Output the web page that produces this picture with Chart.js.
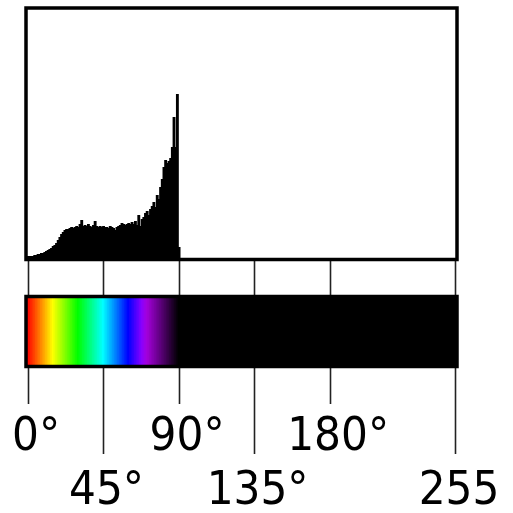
<!DOCTYPE html>
<html>
<head>
<meta charset="utf-8">
<script src="https://cdn.jsdelivr.net/npm/chart.js@4/dist/chart.umd.min.js"></script>
<style>
  html, body { margin: 0; padding: 0; background: #fff; }
  canvas { display: block; }
</style>
</head>
<body>
<canvas id="hueChart" width="513" height="513"></canvas>
<script>
// histogram counts for hue bins 0..90 (everything above is empty)
const histCounts = [
  1, 1, 1, 1, 2, 2, 3, 3, 4, 4,
  5, 6, 7, 8, 9, 11, 12, 14, 17, 20,
  23, 25, 27, 28, 28, 29, 30, 29, 30, 31,
  30, 33, 37, 31, 32, 31, 33, 31, 30, 32,
  36, 31, 30, 31, 30, 31, 30, 30, 29, 31,
  30, 29, 27, 30, 31, 32, 34, 33, 32, 33,
  34, 33, 35, 33, 36, 32, 42, 31, 38, 40,
  44, 46, 42, 48, 51, 55, 50, 62, 58, 70,
  78, 90, 97, 94, 96, 99, 110, 140, 110, 163,
  10
];

// axis ticks, split in the two label rows
const upperTicks = [0, 90, 180];
const upperLabels = ['0°', '90°', '180°'];
const lowerTicks = [45, 135, 255];
const lowerLabels = ['45°', '135°', '255'];
const allTicks = [0, 45, 90, 135, 180, 255];

const binCount = 256;

// colour of the hue strip for one bin
function bandColour(v) {
  if (v > 90) return '#000';
  var hue = Math.min(v * 4, 285);
  var light = v < 68 ? 50 : 50 * (90 - v) / 22;
  return 'hsl(' + hue + ', 100%, ' + light + '%)';
}

var histData = histCounts.map(function (c, i) { return { x: i, y: c }; });
var bandData = [];
for (var i = 0; i < binCount; i++) bandData.push({ x: i, y: 1 });

// draws the boxes round the histogram and the colour strip
const frames = {
  id: 'frames',
  afterDatasetsDraw(chart) {
    var ctx = chart.ctx, area = chart.chartArea;
    ctx.save();
    ctx.lineWidth = 3.5;
    ctx.strokeStyle = '#000';
    ['yHist', 'yColor'].forEach(function (id) {
      var s = chart.scales[id];
      ctx.strokeRect(area.left, s.top, area.right - area.left, s.bottom - s.top);
    });
    ctx.restore();
  }
};

function fixedTicks(values) {
  return function (scale) {
    scale.ticks = values.map(function (v) { return { value: v }; });
  };
}

// label row height is used to push each row down below its tick lines
function labelFont(lineHeight) {
  return { family: "'Liberation Sans Narrow', 'DejaVu Sans Condensed', sans-serif", size: 47, lineHeight: lineHeight };
}

function xAxis(pos, values, labels, tickLen, lineHeight, offset) {
  return {
    type: 'linear',
    min: -1.2,
    max: 255.6,
    offset: false,
    position: pos,
    afterBuildTicks: fixedTicks(values),
    grid: { offset: false, drawOnChartArea: false, drawTicks: true, tickLength: tickLen, tickWidth: 1.6, tickColor: '#222' },
    border: { display: false },
    ticks: {
      display: labels !== null,
      autoSkip: false,
      maxRotation: 0,
      minRotation: 0,
      padding: 0,
      labelOffset: offset,
      color: '#000',
      font: labelFont(lineHeight),
      callback: function (value, index) { return labels ? labels[index] : ''; }
    }
  };
}

new Chart(document.getElementById('hueChart'), {
  type: 'bar',
  data: {
    datasets: [{
      data: histData,
      xAxisID: 'x',
      yAxisID: 'yHist',
      backgroundColor: '#000',
      borderWidth: 0,
      inflateAmount: 0.6,
      barPercentage: 1,
      categoryPercentage: 1,
      grouped: false
    }, {
      data: bandData,
      xAxisID: 'x',
      yAxisID: 'yColor',
      backgroundColor: function (c) { return bandColour(c.dataIndex); },
      borderWidth: 0,
      inflateAmount: 0.6,
      barPercentage: 1,
      categoryPercentage: 1,
      grouped: false
    }]
  },
  options: {
    responsive: false,
    animation: false,
    layout: { padding: { left: 26, right: 56, top: 8, bottom: 146.5 } },
    plugins: { legend: { display: false }, tooltip: { enabled: false } },
    scales: {
      yColor: { type: 'linear', position: 'left', stack: 'v', stackWeight: 70, min: 0, max: 1, display: false },
      yGap: { type: 'linear', position: 'left', stack: 'v', stackWeight: 37, min: 0, max: 1, display: false },
      yHist: { type: 'linear', position: 'left', stack: 'v', stackWeight: 251.5, min: -2, max: 249.5, display: false },
      x: xAxis({ yGap: 1 }, allTicks, null, 37, 1, 0),
      xUpper: xAxis({ yColor: 0 }, upperTicks, upperLabels, 37, 1.47, 8),
      xLower: xAxis({ yColor: 0 }, lowerTicks, lowerLabels, 87, 1.63, 3)
    }
  },
  plugins: [frames]
});
</script>
</body>
</html>
